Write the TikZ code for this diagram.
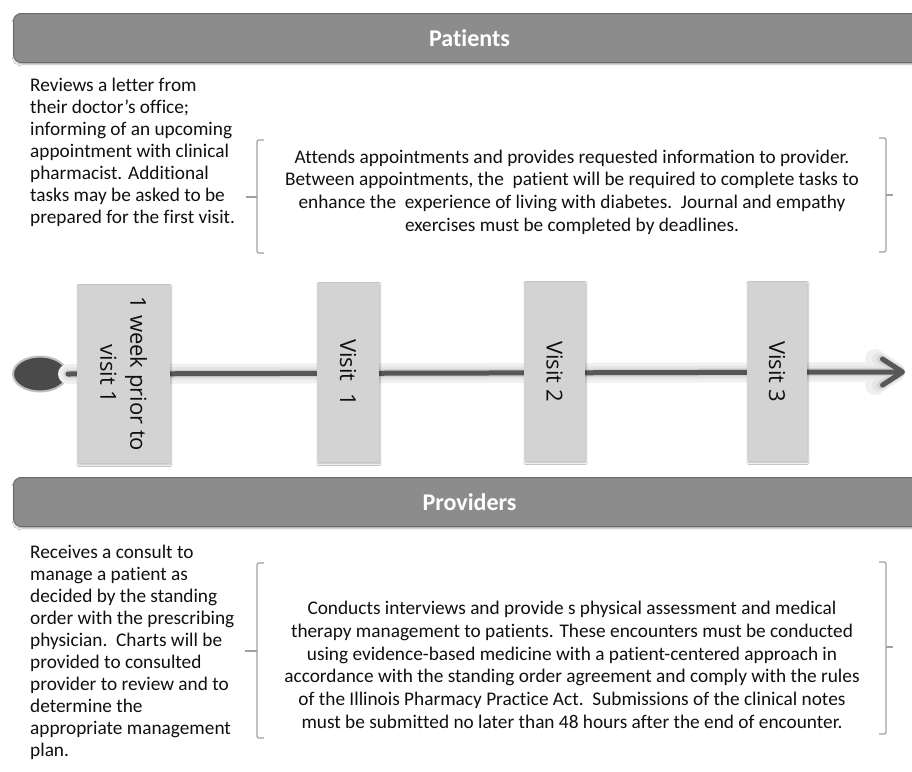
\documentclass[tikz,border=0pt]{standalone}
\usepackage{fontspec}
\setmainfont{Carlito}[Ligatures=NoCommon]
\newfontfamily\boxfont{Open Sans}
\usetikzlibrary{arrows.meta,shadows.blur,shapes.geometric}
\definecolor{barfill}{HTML}{8C8C8C}
\definecolor{bardraw}{HTML}{6A6A6A}
\definecolor{boxfill}{HTML}{D3D3D3}
\definecolor{linecol}{HTML}{575757}
\definecolor{dotcol}{HTML}{4A4A4A}
\definecolor{txt}{HTML}{101010}
\definecolor{brk}{HTML}{A0A0A0}
\tikzset{
  bar/.style={draw=bardraw, line width=1pt, fill=barfill, rounded corners=8pt,
    minimum width=912pt, minimum height=49pt, anchor=north west, inner sep=0pt,
    text=white, font=\fontsize{24}{28}\selectfont\bfseries,
    blur shadow={shadow xshift=0.5pt, shadow yshift=-1.5pt, shadow blur steps=5, shadow opacity=35}},
  visitbox/.style={fill=boxfill, rotate=-90, inner sep=0pt, align=center,
    text=txt, font=\boxfont\fontsize{22}{30}\selectfont,
    blur shadow={shadow xshift=1pt, shadow yshift=-1.5pt, shadow blur steps=5, shadow opacity=30}},
  sidetext/.style={anchor=west, align=left, inner sep=0pt, text=txt,
    font=\fontsize{19.3}{22}\selectfont},
  midtext/.style={anchor=center, align=center, inner sep=0pt, text=txt,
    font=\fontsize{19.3}{22.7}\selectfont},
  bracketline/.style={draw=brk, line width=1.2pt, rounded corners=2pt},
  glow/.style={line cap=round, -{Straight Barb[length=20pt 0, width=26pt 0, round]}}
}
\begin{document}
\begin{tikzpicture}[x=1pt,y=-1pt]
\useasboundingbox (0,0) rectangle (912,771);
\fill[white] (0,0) rectangle (912,771);

% header bars
\node[bar] (patients) at (13,13) {Patients};
\node[bar] (providers) at (13,477) {Providers};

% patient texts
\node[sidetext] (pleft) at (30,152) {Reviews a letter from\\their doctor’s office;\\informing of an upcoming\\appointment with clinical\\pharmacist. Additional\\tasks may be asked to be\\prepared for the first visit.};
\node[midtext] (pmid) at (572,192) {Attends appointments and provides requested information to provider.\\Between appointments, the\ \ patient will be required to complete tasks to\\enhance the\ \ experience of living with diabetes.\ \ Journal and empathy\\exercises must be completed by deadlines.};
\draw[bracketline] (264,140) -- (257,140) -- (257,253) -- (264,253);
\draw[bracketline] (257,197) -- (246,197);
\draw[bracketline] (879,138) -- (886,138) -- (886,252) -- (879,252);
\draw[bracketline] (886,195) -- (893,195);

% timeline
\coordinate (tip) at (905,372);
\node[ellipse, fill=dotcol, draw=black!25, line width=2pt, minimum width=54pt, minimum height=35pt, inner sep=0pt] (start) at (40,374) {};
\draw[glow, line width=20pt, draw=black!6] (start.east) -- (tip);
\draw[glow, line width=13pt, draw=black!10] (start.east) -- (tip);
\draw[glow, line width=8pt, draw=black!18] (start.east) -- (tip);
\draw[glow, line width=5pt, draw=linecol] (start.east) -- (tip);

% visit boxes
\node[visitbox, minimum width=178pt, minimum height=93pt] (prior) at (123.5,374) {1 week prior to\\visit 1};
\node[visitbox, minimum width=179pt, minimum height=62pt] (v1) at (348,372.5) {Visit\ \ 1};
\node[visitbox, minimum width=179pt, minimum height=61pt] (v2) at (554.5,371.5) {Visit 2};
\node[visitbox, minimum width=179pt, minimum height=60pt] (v3) at (777,371.5) {Visit 3};

% provider texts
\node[sidetext] (prleft) at (30,652) {Receives a consult to\\manage a patient as\\decided by the standing\\order with the prescribing\\physician.\ \ Charts will be\\provided to consulted\\provider to review and to\\determine the\\appropriate management\\plan.};
\node[midtext] (prmid) at (572,665) {Conducts interviews and provide s physical assessment and medical\\therapy management to patients. These encounters must be conducted\\using evidence-based medicine with a patient-centered approach in\\accordance with the standing order agreement and comply with the rules\\of the Illinois Pharmacy Practice Act.\ \ Submissions of the clinical notes\\must be submitted no later than 48 hours after the end of encounter.};
\draw[bracketline] (264,563) -- (257,563) -- (257,738) -- (264,738);
\draw[bracketline] (257,651) -- (245,651);
\draw[bracketline] (879,562) -- (886,562) -- (886,734) -- (879,734);
\draw[bracketline] (886,647) -- (893,647);
\end{tikzpicture}
\end{document}
